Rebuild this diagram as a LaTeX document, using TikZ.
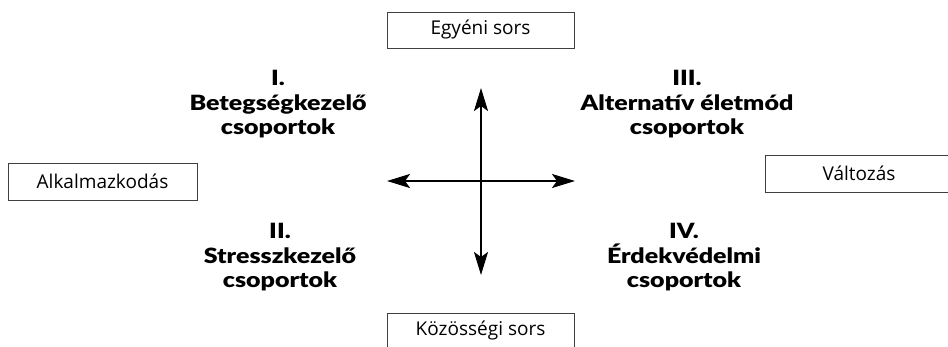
\documentclass[tikz,border=0pt]{standalone}
\usepackage{fontspec}
\usetikzlibrary{arrows.meta}
\setmainfont{Open Sans}
\IfFontExistsTF{Lato-Black.ttf}{\newfontfamily\heavyfont{Lato-Black.ttf}[FakeStretch=1.19]}{%
  \newfontfamily\heavyfont{Lato}[UprightFont=*-Bold,FakeStretch=1.19]}
\tikzset{
  labelbox/.style={draw=black!75, line width=0.8pt, fill=white},
  boxtext/.style={font=\fontsize{19}{23}\selectfont, inner sep=0pt},
  quadtext/.style={font=\heavyfont\fontsize{21}{24.5}\selectfont, align=center, inner sep=0pt},
  axis/.style={line width=2pt, {Stealth[length=23pt,width=14pt,inset=5pt]}-{Stealth[length=23pt,width=14pt,inset=5pt]}}
}
\begin{document}
\begin{tikzpicture}[x=1pt,y=-1pt]
\useasboundingbox (0,0) rectangle (948,347);
\clip (0,0) rectangle (948,347);
% boxes
\draw[labelbox] (387,12) rectangle (574,48);
\node[boxtext] (egyeni) at (480.5,30) {Egyéni sors};
\draw[labelbox] (8,163) rectangle (197,200);
\node[boxtext] (alk) at (102.5,181.5) {Alkalmazkodás};
\draw[labelbox] (765,155) rectangle (953,192);
\node[boxtext] (valt) at (859,173.5) {Változás};
\draw[labelbox] (387,313) rectangle (574,349);
\node[boxtext] (kozos) at (480.5,331) {Közösségi sors};
% axes
\coordinate (top) at (481,88);
\coordinate (bottom) at (481,275);
\coordinate (left) at (387,181);
\coordinate (right) at (575,181);
\draw[axis] (top) -- (bottom);
\draw[axis] (left) -- (right);
% quadrant labels
\node[quadtext] (q1) at (278,104.5) {I.\\Betegségkezelő\\csoportok};
\node[quadtext] (q3) at (687,104.5) {III.\\Alternatív életmód\\csoportok};
\node[quadtext] (q2) at (280,257.5) {II.\\Stresszkezelő\\csoportok};
\node[quadtext] (q4) at (684,257.5) {IV.\\Érdekvédelmi\\csoportok};
\end{tikzpicture}
\end{document}
